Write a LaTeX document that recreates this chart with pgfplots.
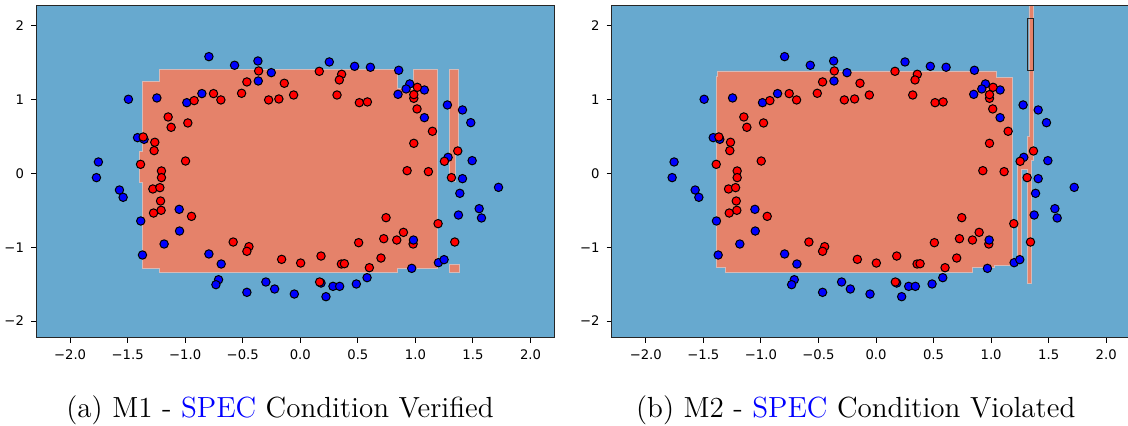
\documentclass[border=0pt]{standalone}
\usepackage{fontspec}
\usepackage{pgfplots}
\usepackage{pgfplotstable}
\pgfplotsset{compat=1.18}
\newfontfamily\dejavu{DejaVu Sans}
\definecolor{bgblue}{RGB}{103,169,207}
\definecolor{regred}{RGB}{229,130,106}
\definecolor{edgec}{RGB}{214,186,184}
\definecolor{ptred}{RGB}{255,0,0}
\definecolor{ptblue}{RGB}{0,0,255}

\pgfplotstableread{
x y
-0.794 1.584
-0.571 1.467
-0.368 1.525
-0.252 1.367
-0.365 1.254
-0.855 1.083
-0.986 0.960
-1.246 1.024
-1.493 1.006
-1.414 0.486
-1.357 0.463
-1.754 0.156
-1.771 -0.056
-1.571 -0.224
-1.539 -0.323
-1.386 -0.644
-1.052 -0.486
-1.049 -0.780
-1.183 -0.956
-1.371 -1.105
-0.794 -1.091
-0.687 -1.227
-0.710 -1.440
-0.733 -1.507
-0.464 -1.611
-0.299 -1.471
-0.223 -1.566
-0.052 -1.634
0.223 -1.670
0.180 -1.485
0.284 -1.530
0.342 -1.530
0.487 -1.498
0.580 -1.412
0.968 -1.286
1.200 -1.209
1.249 -1.168
1.374 -0.563
1.554 -0.477
1.574 -0.603
1.386 -0.269
1.409 -0.070
1.493 0.174
1.722 -0.188
1.284 0.219
1.278 0.929
1.409 0.861
1.481 0.689
1.078 0.757
1.078 1.132
0.951 1.214
0.919 1.146
0.849 1.073
0.855 1.399
0.609 1.440
0.472 1.453
0.252 1.512
}\bluepts

\pgfplotstableread{
x y
0.983 -0.902
}\bluetop

\pgfplotstableread{
x y
-0.362 1.390
-0.464 1.241
-0.139 1.223
0.165 1.385
0.359 1.345
0.339 1.268
0.319 1.064
-0.058 1.064
-0.186 1.010
-0.275 0.997
-0.510 1.087
-0.690 0.997
-0.754 1.083
-0.922 0.988
-1.148 0.766
-1.122 0.626
-0.977 0.685
-1.365 0.495
-1.264 0.423
-1.270 0.310
-1.388 0.124
-0.997 0.169
-1.206 0.034
-1.206 -0.056
-1.281 -0.210
-1.220 -0.192
-1.214 -0.373
-1.209 -0.499
-1.275 -0.536
-0.945 -0.581
-0.583 -0.929
-0.446 -0.992
-0.464 -1.055
-0.162 -1.164
0.003 -1.214
0.180 -1.119
0.168 -1.471
0.357 -1.227
0.383 -1.223
0.507 -0.938
0.600 -1.277
0.701 -1.146
0.725 -0.884
0.838 -0.902
0.896 -0.798
0.745 -0.599
0.980 -0.956
1.197 -0.680
1.342 -0.929
0.928 0.038
1.113 0.025
1.252 0.165
1.313 -0.056
1.368 0.305
0.986 0.409
1.148 0.572
1.014 0.875
0.986 1.019
0.986 1.069
1.017 1.168
0.513 0.960
0.583 0.970
}\redpts

\pgfplotsset{
  dbstyle/.style={
    scale only axis, width=259pt, height=166.2pt,
    xmin=-2.296, xmax=2.204, ymin=-2.226, ymax=2.28,
    axis background/.style={fill=bgblue},
    axis on top,
    axis line style={line width=0.5pt, black!85},
    xtick={-2,-1.5,-1,-0.5,0,0.5,1,1.5,2},
    xticklabels={−2.0,−1.5,−1.0,−0.5,0.0,0.5,1.0,1.5,2.0},
    ytick={-2,-1,0,1,2}, yticklabels={−2,−1,0,1,2},
    tick align=outside, xtick pos=left, ytick pos=left,
    major tick length=2.5pt,
    tick style={line width=0.5pt, black},
    tick label style={font=\dejavu\fontsize{6.6}{8}\selectfont},
  },
  reg/.style={fill=regred, draw=edgec, line width=0.4pt},
  bpt/.style={only marks, mark=*, mark size=2.1pt, mark options={fill=ptblue, draw=black, line width=0.5pt}},
  rpt/.style={only marks, mark=*, mark size=2.1pt, mark options={fill=ptred, draw=black, line width=0.5pt}},
}

\begin{document}
\begin{tikzpicture}
\path[use as bounding box] (0,0) rectangle (564pt,213pt);
\begin{axis}[dbstyle, at={(18pt,44.15pt)}, anchor=south west]
\addplot[reg] coordinates {(-1.368,1.245) (-1.226,1.245) (-1.226,1.412) (0.846,1.412) (0.846,1.16) (0.985,1.16) (0.985,1.412) (1.194,1.412) (1.194,-1.286) (0.846,-1.286) (0.846,-1.345) (-1.226,-1.345) (-1.226,-1.286) (-1.368,-1.286) (-1.368,-0.125) (-1.397,-0.125) (-1.397,0.296) (-1.368,0.296)} -- cycle;
\addplot[reg] coordinates {(1.296,1.412) (1.371,1.412) (1.371,0.296) (1.351,0.296) (1.351,-0.111) (1.296,-0.111)} -- cycle;
\addplot[reg] coordinates {(1.296,-1.231) (1.385,-1.231) (1.385,-1.340) (1.296,-1.340)} -- cycle;
\addplot[bpt] table {\bluepts};
\addplot[rpt] table {\redpts};
\addplot[bpt] table {\bluetop};
\end{axis}
\begin{axis}[dbstyle, at={(305.85pt,44.15pt)}, anchor=south west]
\addplot[reg] coordinates {(-1.388,1.313) (-1.375,1.313) (-1.375,1.390) (1.043,1.390) (1.043,1.304) (1.186,1.304) (1.186,-1.241) (1.026,-1.241) (1.026,-1.277) (0.836,-1.277) (0.836,-1.345) (-1.309,-1.345) (-1.309,-1.277) (-1.388,-1.277)} -- cycle;
\addplot[reg] coordinates {(1.329,2.35) (1.364,2.35) (1.364,0.499) (1.370,0.499) (1.370,0.183) (1.349,0.183) (1.349,-1.489) (1.318,-1.489) (1.318,0.06) (1.262,0.06) (1.262,-1.128) (1.228,-1.128) (1.228,0.20) (1.262,0.20) (1.262,0.183) (1.318,0.183) (1.318,0.499) (1.329,0.499)} -- cycle;
\addplot[draw=black!85, line width=0.5pt] coordinates {(1.320,2.095) (1.370,2.095) (1.370,1.390) (1.320,1.390)} -- cycle;
\addplot[bpt] table {\bluepts};
\addplot[rpt] table {\redpts};
\addplot[bpt] table {\bluetop};
\end{axis}
\node[anchor=base, font=\fontsize{14.55}{17}\selectfont] at (140pt,4pt) {(a) M1 - \textcolor{blue}{SPEC} Condition Verified};
\node[anchor=base, font=\fontsize{14.55}{17}\selectfont] at (427.85pt,4pt) {(b) M2 - \textcolor{blue}{SPEC} Condition Violated};
\end{tikzpicture}
\end{document}
